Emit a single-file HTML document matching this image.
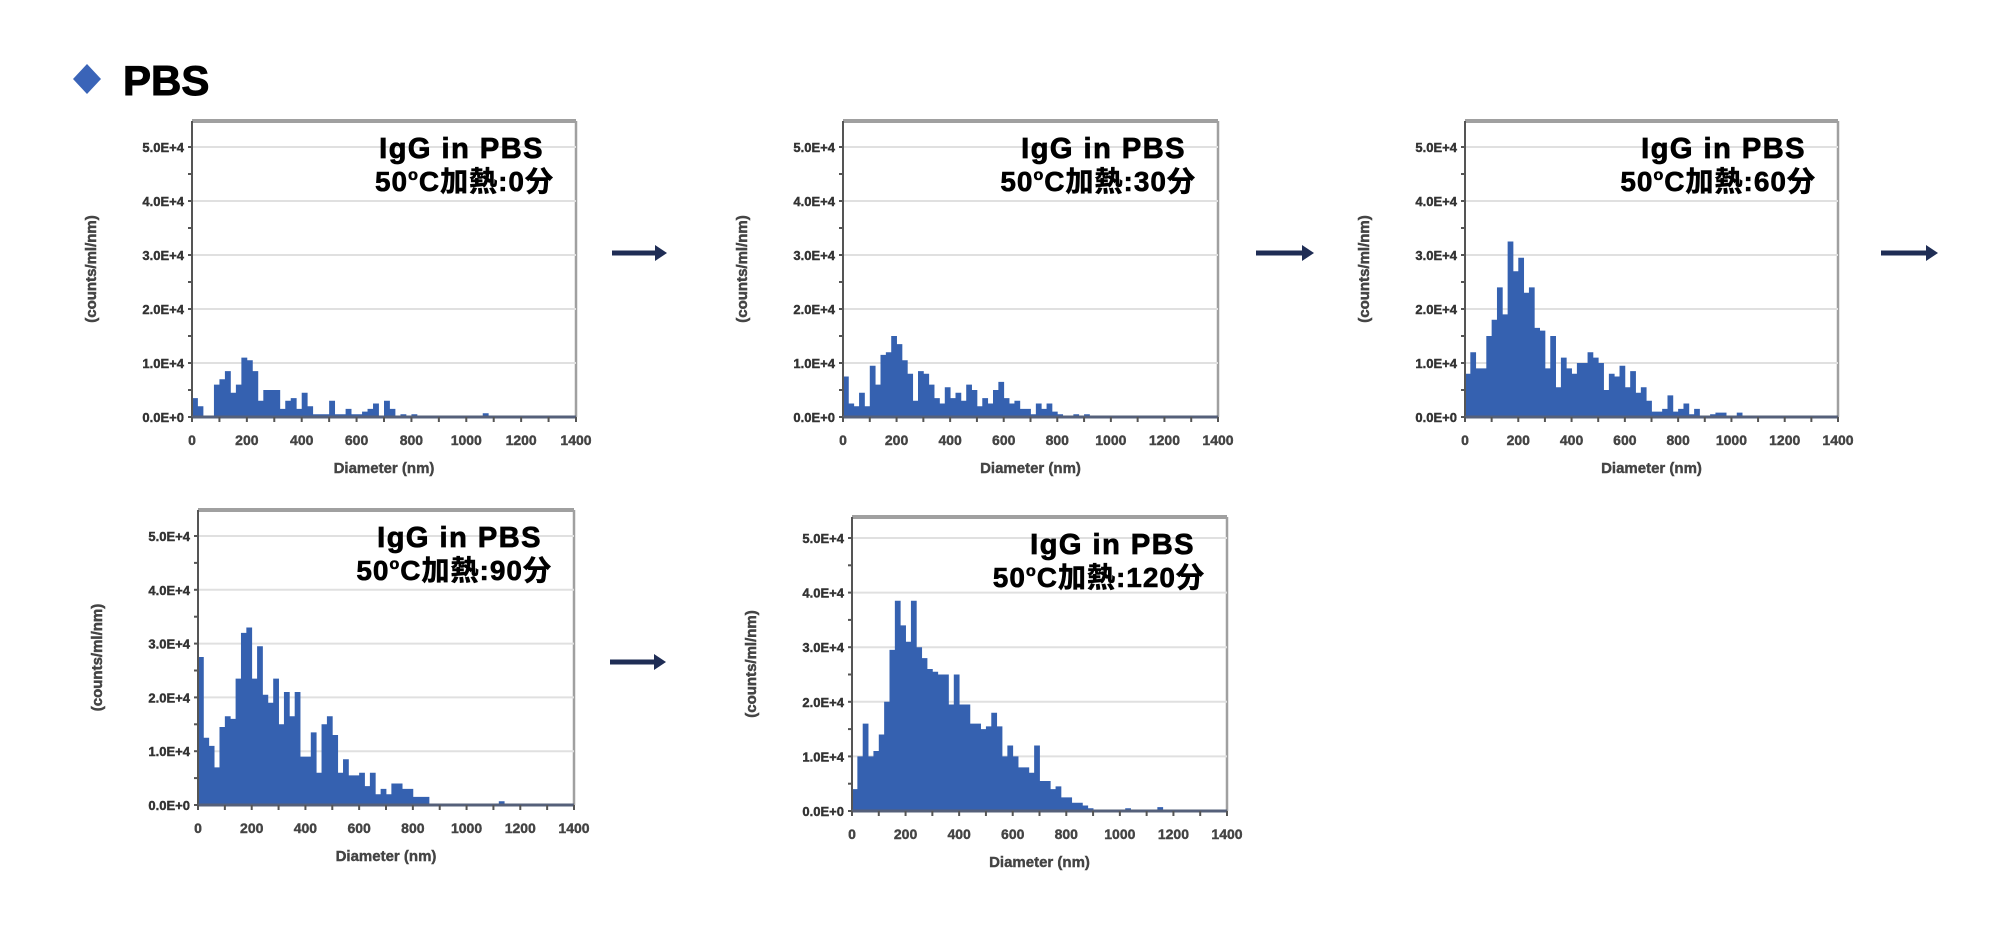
<!DOCTYPE html>
<html><head><meta charset="utf-8">
<style>
html,body{margin:0;padding:0;background:#fff;}
svg{display:block;}
</style></head>
<body>
<svg id="s" width="2000" height="944" viewBox="0 0 2000 944" xmlns="http://www.w3.org/2000/svg" font-family="'Liberation Sans','Noto Sans CJK JP',sans-serif">
<rect width="2000" height="944" fill="#fff"/>
<polygon points="87,64 101,79 87,94 73,79" fill="#3a64b8"/>
<text x="123" y="95" font-size="42" font-weight="bold" fill="#000" stroke="#000" stroke-width="1">PBS</text>
<g id="g"></g>
</svg>
<script>
var NS="http://www.w3.org/2000/svg";
var g=document.getElementById('g');
function el(t,a,txt){var e=document.createElementNS(NS,t);for(var k in a)e.setAttribute(k,a[k]);if(txt!=null)e.textContent=txt;g.appendChild(e);return e;}
function arrow(x1,x2,y){el('line',{x1:x1,y1:y,x2:x2-10,y2:y,stroke:'#1f2d55','stroke-width':5});el('polygon',{points:(x2-12)+','+(y-8)+' '+x2+','+y+' '+(x2-12)+','+(y+8),fill:'#1f2d55'});}
function chart(L,R,top,y0,y5,minutes,data){
  var dy=(y0-y5)/5, w=(R-L);
  el('line',{x1:L,y1:top,x2:R,y2:top,stroke:'#a0a0a0','stroke-width':4});
  el('line',{x1:R,y1:top,x2:R,y2:y0,stroke:'#a0a0a0','stroke-width':2.5});
  for(var i=1;i<=5;i++){var y=y0-i*dy;el('line',{x1:L,y1:y,x2:R,y2:y,stroke:'#e0e0e0','stroke-width':2});}
  var bw=w/70, d='';
  for(var i=0;i<data.length;i++){var v=data[i];if(!v)continue;var h=v*dy;var x=L+i*bw;d+='M'+x.toFixed(2)+','+y0+'h'+(bw+0.4).toFixed(2)+'v'+(-h).toFixed(2)+'h'+(-(bw+0.4)).toFixed(2)+'z';}
  el('path',{d:d,fill:'#3561b0'});
  el('line',{x1:L,y1:top,x2:L,y2:y0+2,stroke:'#555','stroke-width':2});
  el('line',{x1:L,y1:y0,x2:R,y2:y0,stroke:'#55607a','stroke-width':3});
  for(var i=0;i<=10;i++){var y=y0-i*dy/2;el('line',{x1:L-4,y1:y,x2:L,y2:y,stroke:'#555','stroke-width':2});}
  for(var i=0;i<=5;i++){var y=y0-i*dy;el('text',{x:L-8,y:y+5,'font-size':13,'font-weight':'bold',fill:'#333',stroke:'#333','stroke-width':0.4,'text-anchor':'end'},i+'.0E+'+(i?4:0));}
  for(var i=0;i<=14;i++){var x=L+i*w/14;el('line',{x1:x,y1:y0,x2:x,y2:y0+5,stroke:'#555','stroke-width':2});
    if(i%2==0)el('text',{x:x,y:y0+28,'font-size':14,'font-weight':'bold',fill:'#444',stroke:'#444','stroke-width':0.4,'text-anchor':'middle'},i*100);}
  el('text',{x:(L+R)/2,y:y0+56,'font-size':15,'font-weight':'bold',fill:'#444',stroke:'#444','stroke-width':0.4,'text-anchor':'middle'},'Diameter (nm)');
  var cy=(top+y0)/2, cx=L-96;
  el('text',{x:cx,y:cy,'font-size':15,'font-weight':'bold',fill:'#444',stroke:'#444','stroke-width':0.5,'text-anchor':'middle',transform:'rotate(-90 '+cx+' '+cy+')'},'(counts/ml/nm)');
  el('text',{x:R-32,y:top+37,'font-size':29,'font-weight':'bold',fill:'#000',stroke:'#000','stroke-width':0.8,'letter-spacing':1.5,'text-anchor':'end'},'IgG in PBS');
  var t=el('text',{x:R-22,y:top+70,'font-size':28,'font-weight':'bold',fill:'#000',stroke:'#000','stroke-width':0.6,'letter-spacing':1,'text-anchor':'end'},null);
  t.innerHTML='50<tspan font-size="16" dy="-11">o</tspan><tspan dy="11">C加熱:'+minutes+'分</tspan>';
}
function arr(o){var a=[];for(var k in o)a[Math.round(k/20)]=o[k];return a;}
var d1=arr({0:0.35,20:0.2,80:0.6,100:0.7,120:0.85,140:0.45,160:0.6,180:1.1,200:1.05,220:0.85,240:0.3,260:0.5,280:0.5,300:0.5,320:0.15,340:0.3,360:0.35,380:0.15,400:0.45,420:0.2,440:0.05,460:0.05,480:0.05,500:0.3,520:0.05,540:0.05,560:0.15,580:0.05,600:0.05,620:0.1,640:0.15,660:0.25,700:0.3,720:0.15,740:0.02,760:0.05,780:0.02,800:0.05,1060:0.07});
var d2=arr({0:0.75,20:0.25,40:0.2,60:0.45,80:0.2,100:0.95,120:0.6,140:1.15,160:1.2,180:1.5,200:1.35,220:1.05,240:0.8,260:0.3,280:0.85,300:0.8,320:0.6,340:0.35,360:0.25,380:0.55,400:0.35,420:0.45,440:0.3,460:0.6,480:0.5,500:0.2,520:0.35,540:0.25,560:0.5,580:0.65,600:0.35,620:0.25,640:0.3,660:0.15,680:0.15,700:0.05,720:0.25,740:0.15,760:0.25,780:0.1,800:0.05,860:0.05,900:0.05});
var d3=arr({0:0.8,20:1.2,40:0.9,60:0.9,80:1.5,100:1.8,120:2.4,140:1.9,160:3.25,180:2.7,200:2.95,220:2.3,240:2.4,260:1.65,280:1.6,300:0.9,320:1.5,340:0.55,360:1.1,380:0.9,400:0.8,420:1.0,440:1.0,460:1.2,480:1.1,500:1.0,520:0.5,540:0.8,560:0.75,580:0.95,600:0.55,620:0.85,640:0.45,660:0.55,680:0.3,700:0.1,720:0.1,740:0.15,760:0.4,780:0.1,800:0.15,820:0.25,840:0.05,860:0.15,880:0.02,900:0.02,920:0.05,940:0.08,960:0.08,980:0.02,1000:0.02,1020:0.08});
var d4=arr({0:2.75,20:1.25,40:1.1,60:0.7,80:1.45,100:1.65,120:1.6,140:2.35,160:3.2,180:3.3,200:2.35,220:2.95,240:2.05,260:1.9,280:2.35,300:1.5,320:2.1,340:1.65,360:2.1,380:0.9,400:0.9,420:1.35,440:0.6,460:1.5,480:1.65,500:1.3,520:0.6,540:0.85,560:0.55,580:0.55,600:0.6,620:0.35,640:0.6,660:0.2,680:0.3,700:0.2,720:0.4,740:0.4,760:0.3,780:0.3,800:0.15,820:0.15,840:0.15,860:0.02,1120:0.07});
var d5=arr({0:0.4,20:1.0,40:1.6,60:1.0,80:1.1,100:1.4,120:2.0,140:2.95,160:3.85,180:3.4,200:3.1,220:3.85,240:3.0,260:2.8,280:2.6,300:2.55,320:2.5,340:2.5,360:1.95,380:2.5,400:1.95,420:1.95,440:1.6,460:1.6,480:1.5,500:1.55,520:1.8,540:1.55,560:1.0,580:1.2,600:1.0,620:0.8,640:0.8,660:0.7,680:1.2,700:0.55,720:0.55,740:0.4,760:0.45,780:0.25,800:0.25,820:0.15,840:0.15,860:0.1,880:0.05,900:0.02,1020:0.05,1140:0.07});
chart(192,576,121,417,147,0,d1);
chart(843,1218,121,417,147,30,d2);
chart(1465,1838,121,417,147,60,d3);
chart(198,574,510,805,536,90,d4);
chart(852,1227,517,811,538,120,d5);
arrow(612,667,253);arrow(1256,1314,253);arrow(1881,1938,253);arrow(610,666,662);
</script>
</body></html>
